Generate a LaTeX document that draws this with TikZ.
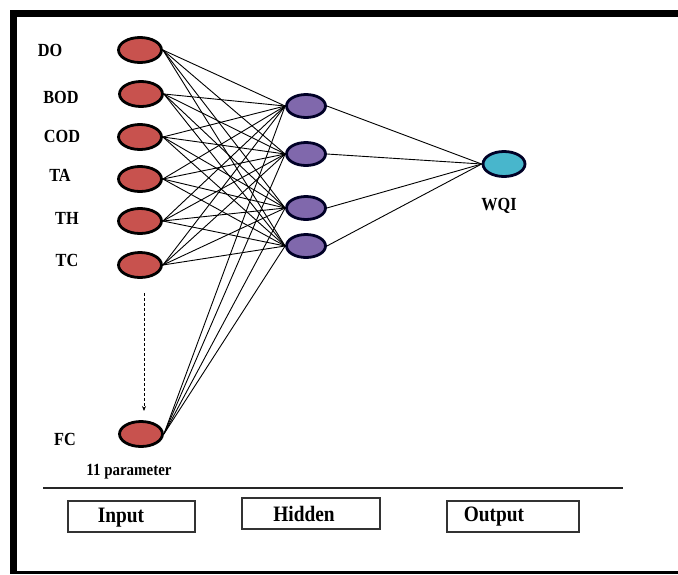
\documentclass[tikz,border=0pt]{standalone}
\usepackage{fontspec}
\setmainfont{Liberation Serif}
\usetikzlibrary{shapes.geometric,arrows.meta}
\definecolor{inred}{RGB}{200,82,78}
\definecolor{hidpurple}{RGB}{128,104,172}
\definecolor{outcyan}{RGB}{72,182,204}
\newcommand\sqz[1]{\scalebox{0.88}[1]{#1}}
\begin{document}
\begin{tikzpicture}[x=1pt,y=-1pt,
  inp/.style={ellipse, draw=black, line width=2.8pt, fill=inred, minimum width=43pt, minimum height=25pt, inner sep=0pt},
  hid/.style={ellipse, draw=black!85!blue, line width=2.8pt, fill=hidpurple, minimum width=39pt, minimum height=23pt, inner sep=0pt},
  outp/.style={ellipse, draw=black!85!blue, line width=2.8pt, fill=outcyan, minimum width=42pt, minimum height=25pt, inner sep=0pt},
  lab/.style={font=\fontsize{18.5}{20}\selectfont\bfseries, inner sep=0pt},
  layerbox/.style={draw=black!80, line width=1.3pt, minimum height=31pt, inner sep=0pt},
  boxlab/.style={font=\fontsize{22}{24}\selectfont\bfseries, inner sep=0pt},
  conn/.style={line width=0.9pt, black}]
\useasboundingbox (0,0) rectangle (678,574);
\fill[white] (0,0) rectangle (678,574);
% frame
\fill[black] (10,10) rectangle (678,17);
\fill[black] (10,10) rectangle (17,574);
\fill[black] (10,570.5) rectangle (678,574);
% input nodes
\node[inp] (i1) at (140,50) {};
\node[inp] (i2) at (141,94) {};
\node[inp] (i3) at (140,137) {};
\node[inp] (i4) at (140,179) {};
\node[inp] (i5) at (140,221) {};
\node[inp] (i6) at (140,265) {};
\node[inp] (i7) at (141,434) {};
% hidden nodes
\node[hid] (h1) at (306,106) {};
\node[hid] (h2) at (306,154) {};
\node[hid] (h3) at (306,208) {};
\node[hid] (h4) at (306,246) {};
% output
\node[outp] (o) at (504,164) {};
% connections
\foreach \i in {i1,i2,i3,i4,i5,i6,i7}
  \foreach \h in {h1,h2,h3,h4}
    \draw[conn] (\i.east) -- (\h.west);
\foreach \h in {h1,h2,h3,h4}
  \draw[conn] (\h.east) -- (o.west);
% labels
\node[lab] (lDO) at (50,50) {\sqz{DO}};
\node[lab] (lBOD) at (61,97) {\sqz{BOD}};
\node[lab] (lCOD) at (62,136) {\sqz{COD}};
\node[lab] (lTA) at (60,175) {\sqz{TA}};
\node[lab] (lTH) at (67,218) {\sqz{TH}};
\node[lab] (lTC) at (67,260) {\sqz{TC}};
\node[lab] (lFC) at (65,439) {\sqz{FC}};
\node[lab, font=\fontsize{17}{19}\selectfont\bfseries] (lpar) at (129,472) {\sqz{11 parameter}};
\node[lab] (lWQI) at (499,206) {\sqz{WQI}};
% dashed arrow
\coordinate (d1) at (144,293);
\coordinate (d2) at (144,411);
\draw[densely dashed, line width=1pt, -{Stealth[length=5pt,width=4pt]}] (d1) -- (d2);
% separator line
\coordinate (s1) at (43,488);
\coordinate (s2) at (623,488);
\draw[line width=1.3pt, black!85] (s1) -- (s2);
% layer boxes
\node[layerbox, minimum width=127pt] (bIn) at (131.5,516.5) {};
\node[layerbox, minimum width=138pt] (bHid) at (311,513.5) {};
\node[layerbox, minimum width=132pt] (bOut) at (513,516.5) {};
\node[boxlab] (tIn) at (121,518) {\sqz{Input}};
\node[boxlab] (tHid) at (304,514) {\sqz{Hidden}};
\node[boxlab] (tOut) at (494,517) {\sqz{Output}};
\end{tikzpicture}
\end{document}
